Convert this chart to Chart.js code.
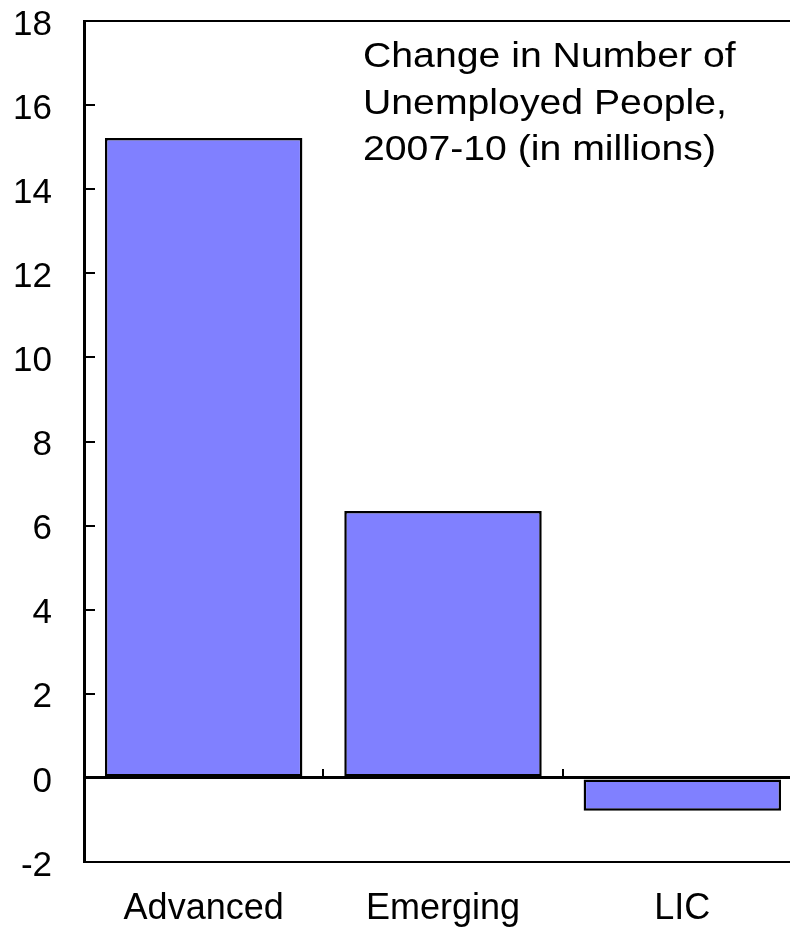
<!DOCTYPE html>
<html>
<head>
<meta charset="utf-8">
<script src="https://cdn.jsdelivr.net/npm/chart.js@4.4.1/dist/chart.umd.min.js"></script>
<style>
  html, body { margin: 0; padding: 0; background: #fff; overflow: hidden; }
  #wrap { position: relative; width: 790px; height: 931px; overflow: hidden; }
  #box { position: absolute; left: 0; top: 0; width: 802px; height: 931px; }
</style>
</head>
<body>
<div id="wrap"><div id="box"><canvas id="chart"></canvas></div></div>
<script>
// =================== DATA ===================
const categories = ["Advanced", "Emerging", "LIC"];
const unemployedChange = [15.22, 6.35, -0.78];
const yTicks = [-2, 0, 2, 4, 6, 8, 10, 12, 14, 16, 18];
const titleLines = ["Change in Number of", "Unemployed People,", "2007-10 (in millions)"];

const FONT = "'Liberation Sans', Arial, sans-serif";

// inward ticks on the y axis, category ticks on the zero line, and the title
const framePlugin = {
  id: "frame",
  afterDraw(chart) {
    const { ctx, chartArea, scales } = chart;
    const x = scales.x, y = scales.y;
    ctx.save();
    ctx.strokeStyle = "#000";
    ctx.lineWidth = 2;
    ctx.beginPath();
    yTicks.forEach(v => {
      const py = Math.round(y.getPixelForValue(v));
      ctx.moveTo(chartArea.left, py);
      ctx.lineTo(chartArea.left + 11, py);
    });
    const zero = y.getPixelForValue(0);
    for (let i = 0; i < categories.length - 1; i++) {
      const px = Math.round((x.getPixelForValue(i) + x.getPixelForValue(i + 1)) / 2);
      ctx.moveTo(px, zero);
      ctx.lineTo(px, zero - 9);
    }
    ctx.stroke();

    // title, slightly stretched sideways like the original
    ctx.fillStyle = "#000";
    ctx.font = "35px " + FONT;
    ctx.textAlign = "left";
    ctx.textBaseline = "alphabetic";
    ctx.translate(363, 0);
    ctx.scale(1.12, 1);
    titleLines.forEach((t, i) => ctx.fillText(t, 0, 67 + i * 46.5));
    ctx.restore();
  }
};

new Chart(document.getElementById("chart"), {
  type: "bar",
  data: {
    labels: categories,
    datasets: [{
      data: unemployedChange,
      backgroundColor: "#8080FF",
      borderColor: "#000",
      borderWidth: 2.5,
      borderSkipped: false,
      barPercentage: 0.825,
      categoryPercentage: 1
    }]
  },
  options: {
    responsive: true,
    maintainAspectRatio: false,
    animation: false,
    layout: { padding: { top: 21, right: 0, left: 0, bottom: 0 } },
    plugins: { legend: { display: false }, tooltip: { enabled: false } },
    scales: {
      y: {
        min: -2,
        max: 18,
        afterBuildTicks: s => { s.ticks = yTicks.map(v => ({ value: v })); },
        afterFit: s => { s.width = 84; s.paddingTop = 0; s.paddingBottom = 0; },
        ticks: {
          color: "#000",
          padding: 32,
          font: { family: FONT, size: 35, lineHeight: "8px" },
          // empty first line nudges the number a few px below its tick, as in the original
          callback: v => ["", String(v)]
        },
        grid: {
          drawTicks: false,
          lineWidth: c => (c.tick && c.tick.value === 0) ? 3 : 2,
          color: c => (c.tick && (c.tick.value === 0 || c.tick.value === 18)) ? "#000" : "rgba(0,0,0,0)"
        },
        border: { display: true, color: "#000", width: 3 }
      },
      x: {
        afterFit: s => { s.height = 69; s.paddingLeft = 0; s.paddingRight = 0; },
        ticks: { color: "#000", padding: 25, font: { family: FONT, size: 36 } },
        grid: { display: false, drawTicks: false },
        border: { display: true, color: "#000", width: 2 }
      }
    }
  },
  plugins: [framePlugin]
});
</script>
</body>
</html>
